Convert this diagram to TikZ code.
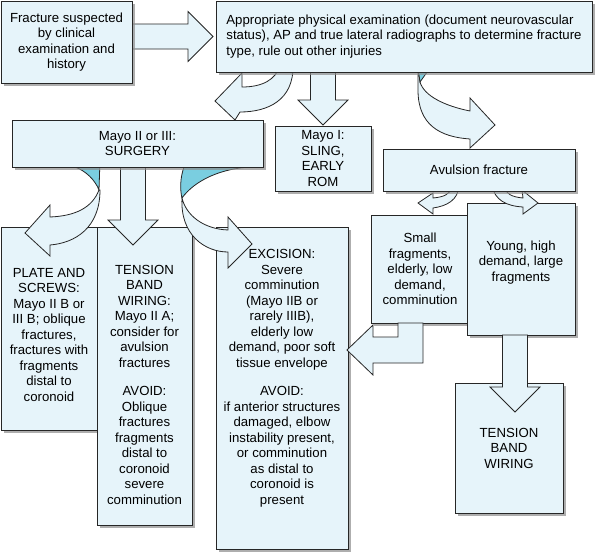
\documentclass[tikz,border=0pt]{standalone}
\usepackage{fontspec}
\setmainfont{Liberation Sans}
\usetikzlibrary{positioning, calc, shadows}

\definecolor{boxblue}{RGB}{230,244,250}
\definecolor{backblue}{RGB}{122,206,224}

\pgfdeclarelayer{front}
\pgfsetlayers{main,front}

% struts to move the text inside the tall boxes
\newcommand{\padtop}[1]{\rule{0pt}{#1}}
\newcommand{\padbot}[1]{\rule[-#1]{0pt}{#1}}

\begin{document}
\begin{tikzpicture}[
        x=1pt, y=-1pt,
        box/.style={rectangle, draw=black!85, fill=boxblue, line width=0.8pt, inner sep=0pt, outer sep=0pt,
          align=center, anchor=north west, font=\fontsize{13.2}{15.5}\selectfont,
          drop shadow={shadow xshift=2.5pt, shadow yshift=-2.5pt, fill=black!45, opacity=0.7}},
        band/.style={draw=black!85, fill=boxblue, line width=0.8pt, line join=miter},
        bandback/.style={band, fill=backblue},
        blockarrow/.style={band, to path={
          ($(\tikztostart)!12.5pt!90:(\tikztotarget)$)
          -- ($(\tikztotarget)!25pt!(\tikztostart)!12.5pt!-90:(\tikztostart)$)
          -- ($(\tikztotarget)!25pt!(\tikztostart)!25pt!-90:(\tikztostart)$)
          -- (\tikztotarget)
          -- ($(\tikztotarget)!25pt!(\tikztostart)!25pt!90:(\tikztostart)$)
          -- ($(\tikztotarget)!25pt!(\tikztostart)!12.5pt!90:(\tikztostart)$)
          -- ($(\tikztostart)!12.5pt!-90:(\tikztotarget)$) -- cycle}}
        ]
        \useasboundingbox (0,0) rectangle (595,554);

        % lower boxes
        \node[box, minimum width=96pt, minimum height=203pt] (plate) at (1,227) {\padtop{21.5pt}PLATE AND\\SCREWS:\\Mayo II B or\\III B; oblique\\fractures,\\fractures with\\fragments\\distal to\\coronoid};
        \node[box, minimum width=95pt, minimum height=298pt, right=0pt of plate.north east, anchor=north west] (tension) {\padtop{26.5pt}TENSION\\BAND\\WIRING:\\Mayo II A;\\consider for\\avulsion\\fractures\\[13pt]AVOID:\\Oblique\\fractures\\fragments\\distal to\\coronoid\\severe\\comminution};
        \node[box, minimum width=132pt, minimum height=322pt, right=24pt of tension.north east, anchor=north west] (excision) {EXCISION:\\Severe\\comminution\\(Mayo IIB or\\rarely IIIB),\\elderly low\\demand, poor soft\\tissue envelope\\[13pt]AVOID:\\if anterior structures\\damaged, elbow\\instability present,\\or comminution\\as distal to\\coronoid is\\present\padbot{22pt}};
        \node[box, minimum width=96pt, minimum height=65pt] (mayoI) at (275,126) {Mayo I:\\SLING,\\EARLY\\ROM};
        \node[box, minimum width=98pt, minimum height=108pt] (small) at (371,215) {Small\\fragments,\\elderly, low\\demand,\\comminution};
        \node[box, minimum width=108pt, minimum height=132pt] (young) at (467,203) {Young, high\\demand, large\\fragments\padbot{16pt}};
        \node[box, minimum width=108pt, minimum height=130pt] (tbw) at (455,383) {TENSION\\BAND\\WIRING};

        % upper boxes, over the arrows
        \begin{pgfonlayer}{front}
        \node[box, minimum width=131pt, minimum height=82pt] (suspect) at (1,1) {Fracture suspected\\by clinical\\examination and\\history};
        \node[box, align=left, minimum width=376pt, minimum height=71pt, right=84pt of suspect.north east, anchor=north west] (exam) {Appropriate physical examination (document neurovascular\\status), AP and true lateral radiographs to determine fracture\\type, rule out other injuries};
        \node[box, minimum width=251pt, minimum height=47pt] (surgery) at (12,120) {Mayo II or III:\\SURGERY};
        \node[box, minimum width=192pt, minimum height=42pt] (avulsion) at (383,149) {Avulsion fracture};
        \end{pgfonlayer}

        % straight arrows
        \coordinate (a1s) at (suspect.east |- exam.west);
        \coordinate (a1e) at ($(exam.west)+(-3,0)$);
        \coordinate (a2s) at (mayoI.north |- exam.south);
        \coordinate (a2e) at ($(mayoI.north)+(0,-1)$);
        \coordinate (a3s) at ($(surgery.south)+(-4.5,0)$);
        \coordinate (a3e) at ($(a3s)+(0,78)$);
        \coordinate (a4s) at ($(young.south)+(-6,0)$);
        \coordinate (a4e) at ($(a4s)+(0,77)$);
        \path[blockarrow] (a1s) to (a1e);
        \path[blockarrow] (a2s) to (a2e);
        \path[blockarrow] (a3s) to (a3e);
        \path[blockarrow] (a4s) to (a4e);

        % curved arrows
        \path[band] (293,65) .. controls (294,100) and (268,112) .. (240,112) -- (235,120) -- (215,101) -- (242,73) -- (242,87) .. controls (262,87) and (276,80) .. (280,65) -- cycle;
        \path[band] (418,65) -- (418,90) .. controls (418,125) and (440,137) .. (470,139) -- (470,148) -- (495,125) -- (470,98) -- (470,111) .. controls (445,106) and (424,96) .. (420,82) -- cycle;
        \path[bandback] (418,68) -- (430,68) -- (420,82) -- cycle;
        \path[bandback] (73,160) -- (75,167) .. controls (86,171) and (95,180) .. (99,190) -- (100,160) -- cycle;
        \path[band] (99,190) .. controls (92,208) and (75,216) .. (50,217) -- (50,205) -- (25,233) -- (50,256) -- (50,245) .. controls (75,243) and (100,228) .. (100,190) -- cycle;
        \path[bandback] (185,160) -- (184,167) .. controls (180,178) and (180,190) .. (182,198) .. controls (195,180) and (222,168) .. (252,167) -- (252,160) -- cycle;
        \path[band] (182,198) .. controls (186,215) and (203,229) .. (228,230) -- (228,217) -- (252,244) -- (228,268) -- (228,252) .. controls (205,252) and (180,235) .. (182,198) -- cycle;
        \path[band] (433,208) -- (433,214) -- (418,203) -- (433,193) -- (433,198) .. controls (443,197) and (450,195) .. (453,186) -- (459,186) .. controls (458,200) and (447,206) .. (433,208) -- cycle;
        \path[band] (492,186) .. controls (495,200) and (506,206) .. (523,207) -- (523,214) -- (538,203) -- (522,190) -- (523,198) .. controls (512,197) and (506,194) .. (503,186) -- cycle;

        % bent arrow from the small fragments
        \path[band] (423,323) -- (423,363) -- (373,363) -- (373,375) -- (347,350) -- (373,325) -- (373,337) -- (398,337) -- (398,323) -- cycle;
    \end{tikzpicture}
\end{document}
